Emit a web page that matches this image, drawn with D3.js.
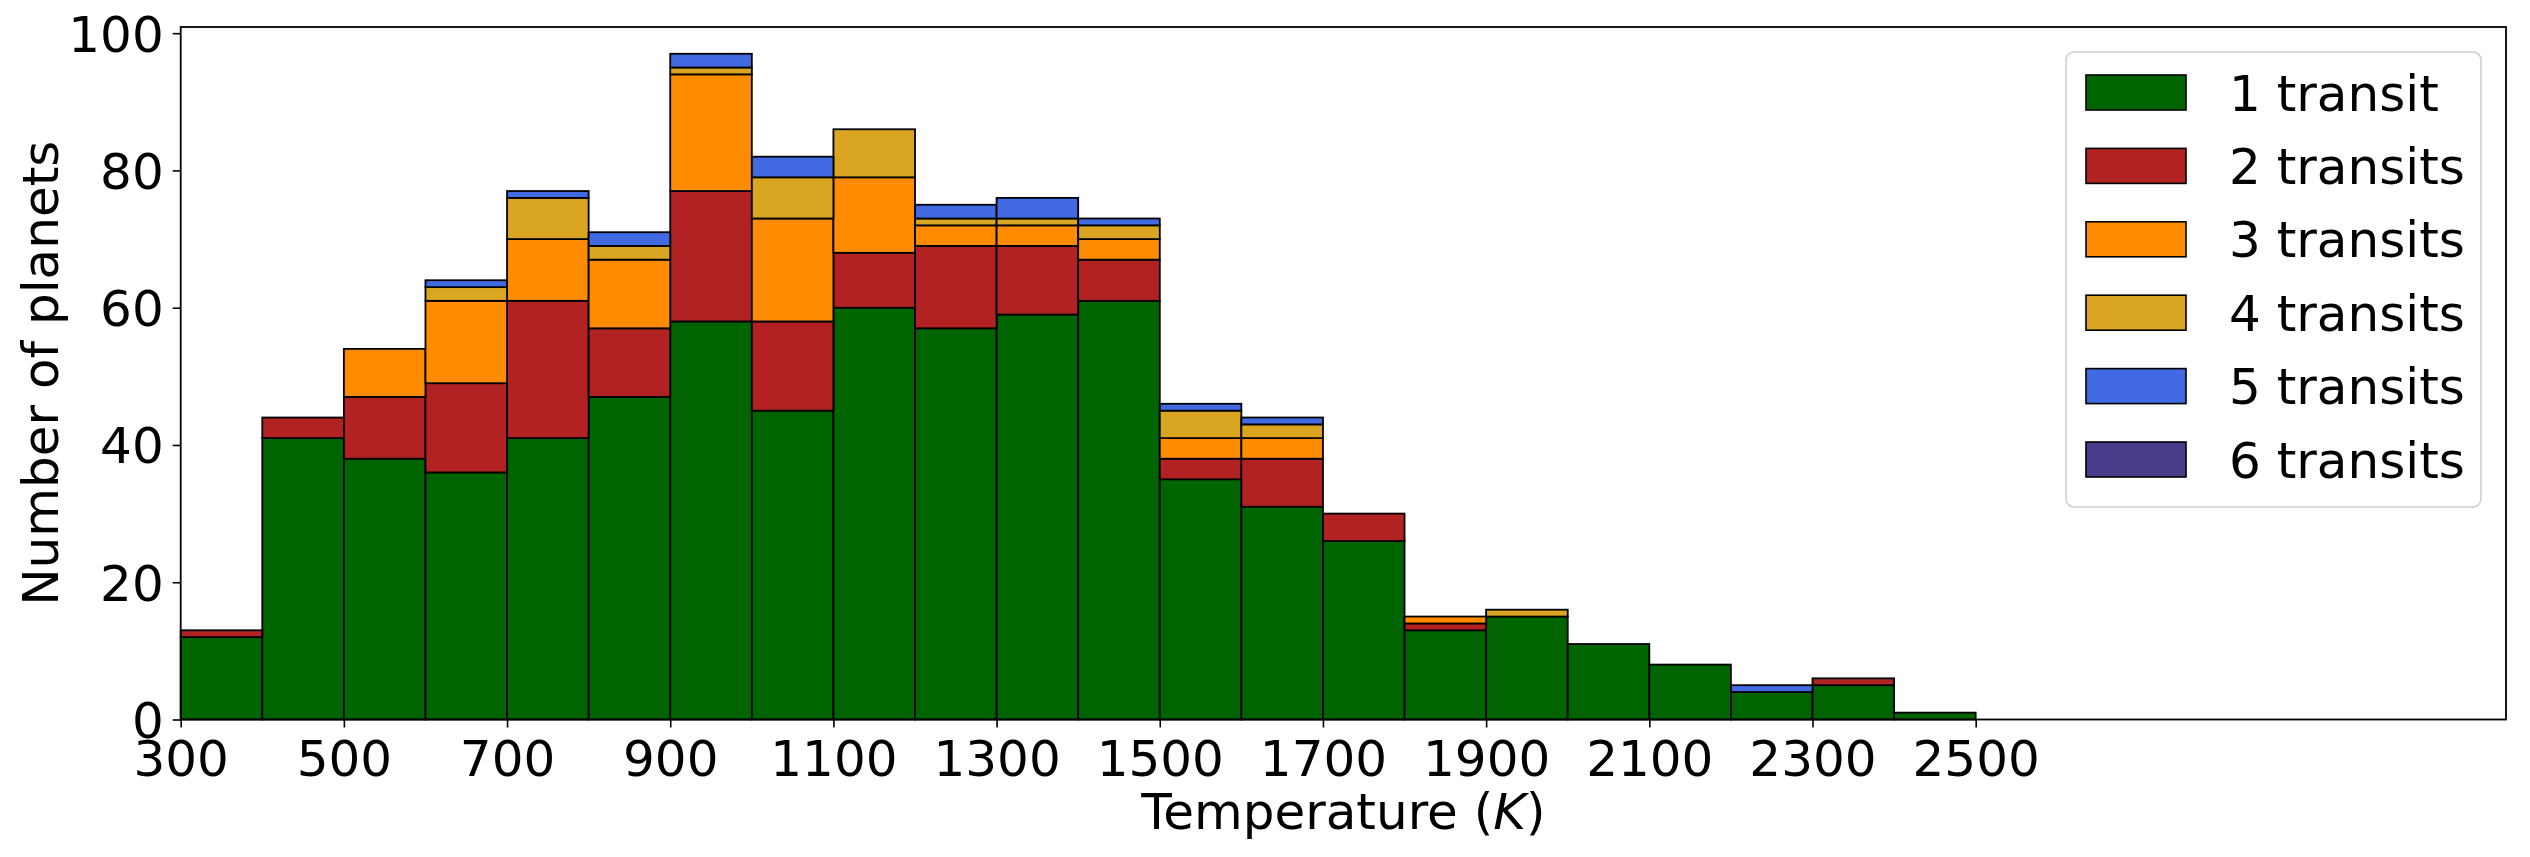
<!DOCTYPE html>
<html><head><meta charset="utf-8">
<script src="https://cdn.jsdelivr.net/npm/d3@7"></script>
<style>body{margin:0;background:#fff;} svg{display:block;} text{font-family:"DejaVu Sans",sans-serif;fill:#000;}</style>
</head><body><svg id="c" width="2530" height="857"></svg>
<script>
const binStarts = [300,400,500,600,700,800,900,1000,1100,1200,1300,1400,1500,1600,1700,1800,1900,2000,2100,2200,2300,2400];
const binWidth = 100;
const seriesNames = ["1 transit","2 transits","3 transits","4 transits","5 transits","6 transits"];
const seriesColors = ["#006400","#b22222","#ff8c00","#daa520","#4169e1","#483d8b"];
const transit1 = [12,41,38,36,41,47,58,45,60,57,59,61,35,31,26,13,15,11,8,4,5,1];
const transit2 = [1,3,9,13,20,10,19,13,8,12,10,6,3,7,4,1,0,0,0,0,1,0];
const transit3 = [0,0,7,12,9,10,17,15,11,3,3,3,3,3,0,1,0,0,0,0,0,0];
const transit4 = [0,0,0,2,6,2,1,6,7,1,1,2,4,2,0,0,1,0,0,0,0,0];
const transit5 = [0,0,0,1,1,2,2,3,0,2,3,1,1,1,0,0,0,0,0,1,0,0];
const transit6 = [0,0,0,0,0,0,0,0,0,0,0,0,0,0,0,0,0,0,0,0,0,0];
const xTicks = [300,500,700,900,1100,1300,1500,1700,1900,2100,2300,2500];
const yTicks = [0,20,40,60,80,100];

const layers = [transit1,transit2,transit3,transit4,transit5,transit6];
const L = 180.7, R = 2506, T = 27, B = 719.5;
const FS = "50px";
const svg = d3.select("#c");
const x = d3.scaleLinear().domain([300,3150]).range([L,R]);
const y = d3.scaleLinear().domain([0,100.9]).range([B,T]);

// stacked bars
const cum = binStarts.map(()=>0);
layers.forEach((vals,li)=>{
  const g = svg.append("g");
  binStarts.forEach((b,i)=>{
    const y0 = cum[i], y1 = cum[i]+vals[i];
    g.append("rect")
      .attr("x", x(b)).attr("width", x(b+binWidth)-x(b))
      .attr("y", y(y1)).attr("height", y(y0)-y(y1))
      .attr("fill", seriesColors[li]).attr("stroke","#000").attr("stroke-width",1.8);
    cum[i] = y1;
  });
});

// axes
const xAxis = d3.axisBottom(x).tickValues(xTicks).tickSize(8).tickPadding(10).tickFormat(d3.format("d"));
const gx = svg.append("g").attr("transform",`translate(0,${B})`).call(xAxis);
gx.select(".domain").remove();
gx.selectAll("line").attr("stroke","#000").attr("stroke-width",1.6);
gx.selectAll("text").style("font-size",FS).attr("dy","0.76em");

const yAxis = d3.axisLeft(y).tickValues(yTicks).tickSize(8).tickPadding(9);
const gy = svg.append("g").attr("transform",`translate(${L},0)`).call(yAxis);
gy.select(".domain").remove();
gy.selectAll("line").attr("stroke","#000").attr("stroke-width",1.6);
gy.selectAll("text").style("font-size",FS).attr("dy","0.36em");

// frame
svg.append("rect").attr("x",L).attr("y",T).attr("width",R-L).attr("height",B-T)
  .attr("fill","none").attr("stroke","#000").attr("stroke-width",1.8);

// labels
const xl = svg.append("text").attr("x",(L+R)/2).attr("y",829).attr("text-anchor","middle").style("font-size",FS);
xl.append("tspan").text("Temperature (");
xl.append("tspan").style("font-style","italic").text("K");
xl.append("tspan").text(")");
svg.append("text").attr("transform",`translate(${40},${(T+B)/2}) rotate(-90)`)
  .attr("text-anchor","middle").attr("dy","0.36em").style("font-size",FS).text("Number of planets");

// legend
const lg = svg.append("g");
lg.append("rect").attr("x",2066).attr("y",52).attr("width",415).attr("height",455).attr("rx",8)
  .attr("fill","#fff").attr("fill-opacity",0.8).attr("stroke","#d0d0d0").attr("stroke-width",1.6);
seriesNames.forEach((n,i)=>{
  const yy = 75 + i*73.4;
  lg.append("rect").attr("x",2086).attr("y",yy).attr("width",100).attr("height",35)
    .attr("fill",seriesColors[i]).attr("stroke","#000").attr("stroke-width",1.6);
  lg.append("text").attr("x",2229).attr("y",yy+17.5).attr("dy","0.36em").style("font-size","50px").text(n);
});
</script></body></html>
